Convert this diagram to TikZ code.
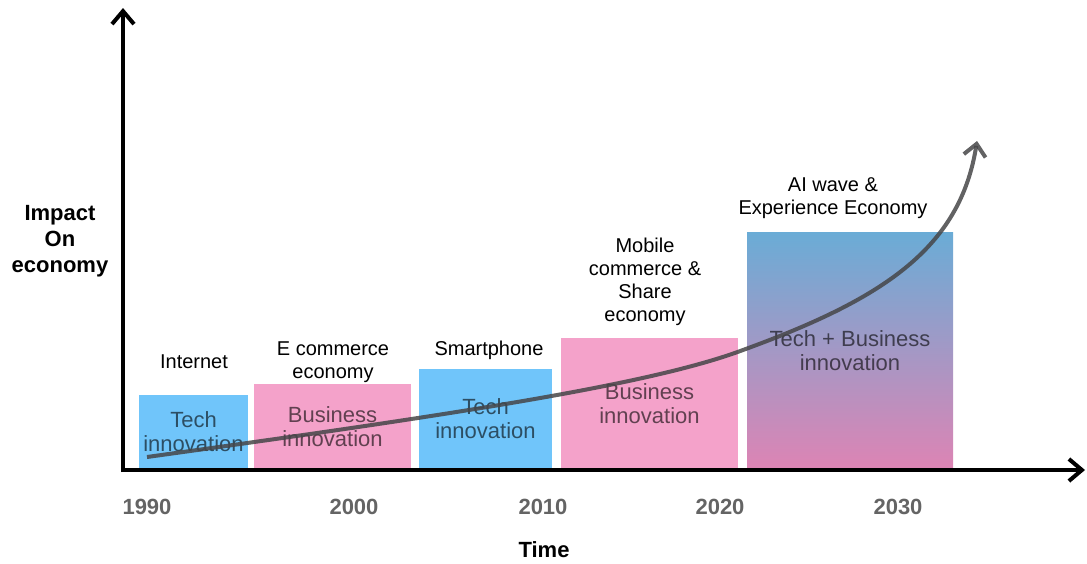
\documentclass[tikz,border=0pt]{standalone}
\usepackage{fontspec}
\setmainfont{Liberation Sans}
\usetikzlibrary{arrows.meta,positioning}
\definecolor{techblue}{RGB}{112,197,250}
\definecolor{bizpink}{RGB}{244,162,202}
\definecolor{gradtop}{RGB}{106,172,214}
\definecolor{gradbot}{RGB}{221,132,180}
\definecolor{yeargray}{RGB}{100,100,100}
\definecolor{curvegray}{RGB}{70,70,72}
\begin{document}
\begin{tikzpicture}[x=1pt, y=-1pt]
\tikzstyle{axis}=[line width=4pt, -{Straight Barb[length=13pt,width=22pt,line width=4pt]}]
\tikzstyle{wavebox}=[inner sep=0pt, align=center, text=black, text opacity=0.6,
    font=\fontsize{22}{24}\selectfont]
\tikzstyle{techbox}=[wavebox, fill=techblue]
\tikzstyle{bizbox}=[wavebox, fill=bizpink]
\tikzstyle{lbl}=[align=center, font=\fontsize{20}{23}\selectfont]
\tikzstyle{year}=[text=yeargray, font=\fontsize{22}{24}\selectfont\bfseries]
\tikzstyle{axlbl}=[align=center, font=\fontsize{22}{26}\selectfont\bfseries]
\useasboundingbox (0,0) rectangle (1087,563);
    % boxes
    \node [techbox, minimum width=109pt, minimum height=74pt] (tech1) at (193.5,432) {Tech\\innovation};
    \node [bizbox, minimum width=157pt, minimum height=85pt] (biz1) at (332.5,426.5) {Business\\innovation};
    \node [techbox, minimum width=133pt, minimum height=100pt] (tech2) at (485.5,419) {Tech\\innovation};
    \node [bizbox, minimum width=177pt, minimum height=131pt] (biz2) at (649.5,403.5) {Business\\innovation};
    \node [wavebox, top color=gradtop, bottom color=gradbot, minimum width=206pt, minimum height=237pt] (ai) at (850,350.5) {Tech + Business\\innovation};
    % labels above the boxes
    \node [lbl] (internet) at (194,362) {Internet};
    \node [lbl] (ecom) at (333,362.5) {E commerce\\economy};
    \node [lbl] (smart) at (489,350) {Smartphone};
    \node [lbl] (mobile) at (645,282) {Mobile\\commerce \&\\Share\\economy};
    \node [lbl] (aiwave) at (833,198) {AI wave \&\\Experience Economy};
    % growth curve
    \coordinate (start) at (147,457);
    \coordinate (bend) at (743,350);
    \coordinate (tip) at (977,141);
    \draw [curvegray, opacity=0.85, line width=4pt, -{Straight Barb[length=12pt,width=22pt,line width=4pt]}]
        (start) .. controls (450,415) and (650,385) .. (bend)
                .. controls (880,300) and (960,250) .. (tip);
    % axes
    \coordinate (origin) at (123,470);
    \coordinate (ytop) at (123,8);
    \coordinate (xend) at (1085,470);
    \draw [axis] (origin) ++(0,2) -- (ytop);
    \draw [axis] (origin) ++(-2,0) -- (xend);
    % years
    \node [year] (y1990) at (147,507) {1990};
    \node [year] (y2000) at (354,507) {2000};
    \node [year] (y2010) at (543,507) {2010};
    \node [year] (y2020) at (720,507) {2020};
    \node [year] (y2030) at (898,507) {2030};
    \node [axlbl] (time) at (544,550) {Time};
    \node [axlbl] (impact) at (60,241) {Impact\\On\\economy};
\end{tikzpicture}
\end{document}
